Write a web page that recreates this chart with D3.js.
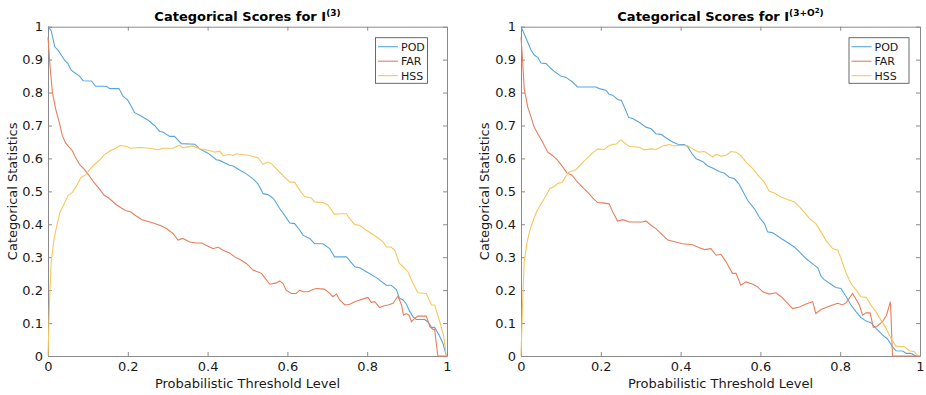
<!DOCTYPE html>
<html>
<head>
<meta charset="utf-8">
<script src="https://cdn.jsdelivr.net/npm/d3@7"></script>
<style>
  body { margin: 0; background: #fff; }
  svg { display: block; font-family: "DejaVu Sans", sans-serif; }
</style>
</head>
<body>
<svg id="chart" width="926" height="395"></svg>
<script>
// tick values and labels
const xTicks = [0, 0.2, 0.4, 0.6, 0.8, 1];
const yTicks = [0, 0.1, 0.2, 0.3, 0.4, 0.5, 0.6, 0.7, 0.8, 0.9, 1];
const seriesNames = ['POD', 'FAR', 'HSS'];
const xLabel = 'Probabilistic Threshold Level';
const yLabel = 'Categorical Statistics';

// [threshold, score], I^(3)
const pod3 = [[0,1.0],[0.008,0.988],[0.017,0.939],[0.025,0.929],[0.033,0.914],[0.042,0.898],[0.05,0.888],[0.058,0.868],[0.067,0.86],[0.079,0.85],[0.088,0.836],[0.109,0.835],[0.119,0.819],[0.146,0.819],[0.155,0.812],[0.178,0.812],[0.188,0.789],[0.2,0.777],[0.209,0.758],[0.217,0.739],[0.23,0.731],[0.251,0.716],[0.267,0.7],[0.28,0.682],[0.288,0.68],[0.305,0.667],[0.317,0.667],[0.334,0.645],[0.368,0.643],[0.38,0.629],[0.401,0.616],[0.422,0.596],[0.43,0.594],[0.455,0.579],[0.464,0.577],[0.48,0.565],[0.497,0.553],[0.514,0.538],[0.526,0.523],[0.535,0.503],[0.539,0.493],[0.551,0.49],[0.56,0.483],[0.568,0.473],[0.581,0.447],[0.593,0.427],[0.606,0.404],[0.618,0.402],[0.631,0.382],[0.639,0.367],[0.656,0.357],[0.668,0.341],[0.689,0.341],[0.706,0.326],[0.718,0.301],[0.748,0.301],[0.769,0.271],[0.781,0.268],[0.798,0.256],[0.823,0.238],[0.848,0.215],[0.86,0.215],[0.873,0.202],[0.881,0.175],[0.89,0.17],[0.898,0.158],[0.906,0.137],[0.915,0.119],[0.923,0.111],[0.944,0.111],[0.952,0.104],[0.961,0.087],[0.969,0.087],[0.98,0.064],[0.99,0.038],[0.998,0.003]];
const far3 = [[0,0.968],[0.005,0.882],[0.011,0.801],[0.019,0.751],[0.028,0.71],[0.036,0.669],[0.044,0.647],[0.053,0.634],[0.061,0.624],[0.069,0.603],[0.08,0.58],[0.09,0.568],[0.103,0.548],[0.115,0.527],[0.128,0.509],[0.14,0.489],[0.153,0.479],[0.17,0.461],[0.182,0.451],[0.195,0.441],[0.207,0.438],[0.22,0.426],[0.236,0.414],[0.256,0.407],[0.28,0.397],[0.297,0.387],[0.313,0.372],[0.326,0.352],[0.338,0.357],[0.355,0.346],[0.372,0.343],[0.386,0.343],[0.401,0.333],[0.414,0.326],[0.426,0.331],[0.439,0.321],[0.455,0.313],[0.468,0.301],[0.48,0.294],[0.497,0.281],[0.514,0.261],[0.535,0.251],[0.547,0.232],[0.556,0.218],[0.572,0.222],[0.581,0.228],[0.589,0.22],[0.597,0.2],[0.61,0.19],[0.622,0.19],[0.631,0.2],[0.639,0.195],[0.652,0.195],[0.664,0.202],[0.673,0.205],[0.693,0.203],[0.706,0.19],[0.714,0.18],[0.723,0.188],[0.731,0.17],[0.744,0.155],[0.756,0.157],[0.769,0.165],[0.781,0.17],[0.794,0.175],[0.802,0.178],[0.81,0.163],[0.819,0.165],[0.831,0.147],[0.84,0.152],[0.852,0.155],[0.865,0.16],[0.877,0.182],[0.886,0.155],[0.891,0.124],[0.898,0.129],[0.905,0.124],[0.911,0.104],[0.919,0.114],[0.927,0.121],[0.948,0.121],[0.957,0.089],[0.965,0.081],[0.969,0.081],[0.977,0],[1,0]];
const hss3 = [[0,0],[0.004,0.17],[0.008,0.284],[0.015,0.355],[0.022,0.395],[0.03,0.436],[0.04,0.461],[0.05,0.487],[0.061,0.497],[0.074,0.522],[0.082,0.541],[0.094,0.55],[0.107,0.57],[0.115,0.58],[0.13,0.596],[0.14,0.61],[0.157,0.624],[0.17,0.631],[0.18,0.639],[0.195,0.637],[0.207,0.631],[0.228,0.633],[0.256,0.631],[0.276,0.626],[0.288,0.631],[0.313,0.631],[0.33,0.64],[0.338,0.632],[0.363,0.638],[0.38,0.629],[0.405,0.624],[0.418,0.619],[0.43,0.622],[0.439,0.609],[0.455,0.612],[0.464,0.609],[0.472,0.614],[0.485,0.612],[0.505,0.609],[0.526,0.602],[0.539,0.582],[0.551,0.589],[0.56,0.584],[0.572,0.569],[0.589,0.548],[0.606,0.528],[0.618,0.528],[0.631,0.503],[0.643,0.484],[0.66,0.48],[0.668,0.468],[0.689,0.466],[0.702,0.458],[0.718,0.43],[0.731,0.432],[0.748,0.432],[0.756,0.417],[0.769,0.399],[0.781,0.397],[0.798,0.382],[0.823,0.362],[0.84,0.346],[0.848,0.331],[0.86,0.331],[0.869,0.321],[0.881,0.281],[0.89,0.271],[0.902,0.256],[0.915,0.22],[0.927,0.192],[0.948,0.19],[0.961,0.155],[0.969,0.155],[0.982,0.104],[0.992,0.059],[0.998,0]];

// right panel, I^(3+O^2)
const pod3o2 = [[0,1.0],[0.013,0.964],[0.025,0.929],[0.033,0.914],[0.042,0.907],[0.05,0.89],[0.063,0.888],[0.075,0.873],[0.088,0.86],[0.1,0.85],[0.113,0.846],[0.129,0.832],[0.142,0.817],[0.188,0.817],[0.196,0.812],[0.213,0.807],[0.221,0.794],[0.23,0.792],[0.242,0.779],[0.251,0.777],[0.259,0.756],[0.27,0.724],[0.28,0.721],[0.297,0.709],[0.313,0.695],[0.326,0.69],[0.338,0.675],[0.351,0.673],[0.363,0.663],[0.38,0.65],[0.393,0.643],[0.409,0.642],[0.418,0.635],[0.43,0.612],[0.439,0.599],[0.455,0.591],[0.468,0.577],[0.48,0.571],[0.497,0.56],[0.51,0.555],[0.522,0.543],[0.535,0.538],[0.546,0.523],[0.556,0.5],[0.568,0.473],[0.585,0.447],[0.597,0.422],[0.61,0.402],[0.618,0.377],[0.631,0.374],[0.652,0.357],[0.673,0.341],[0.685,0.331],[0.698,0.316],[0.714,0.296],[0.735,0.276],[0.744,0.268],[0.752,0.242],[0.76,0.232],[0.777,0.218],[0.789,0.208],[0.802,0.205],[0.815,0.18],[0.827,0.155],[0.84,0.134],[0.852,0.117],[0.865,0.106],[0.877,0.101],[0.89,0.084],[0.906,0.064],[0.919,0.051],[0.931,0.028],[0.94,0.016],[0.957,0.015],[0.965,0.008],[0.977,0.008],[0.99,0]];
const far3o2 = [[0,0.968],[0.004,0.898],[0.008,0.812],[0.017,0.756],[0.025,0.726],[0.033,0.695],[0.042,0.675],[0.054,0.65],[0.067,0.619],[0.079,0.609],[0.092,0.594],[0.104,0.575],[0.115,0.556],[0.128,0.549],[0.14,0.53],[0.157,0.509],[0.17,0.494],[0.182,0.477],[0.192,0.466],[0.205,0.465],[0.221,0.462],[0.23,0.437],[0.242,0.41],[0.255,0.414],[0.272,0.407],[0.305,0.407],[0.313,0.41],[0.326,0.397],[0.338,0.387],[0.355,0.367],[0.368,0.352],[0.388,0.346],[0.405,0.341],[0.43,0.338],[0.447,0.329],[0.46,0.323],[0.476,0.326],[0.489,0.306],[0.501,0.309],[0.514,0.286],[0.53,0.251],[0.539,0.251],[0.551,0.215],[0.564,0.225],[0.581,0.218],[0.593,0.21],[0.606,0.195],[0.622,0.188],[0.639,0.192],[0.652,0.18],[0.664,0.165],[0.681,0.144],[0.698,0.149],[0.714,0.158],[0.731,0.165],[0.739,0.129],[0.752,0.141],[0.764,0.147],[0.781,0.155],[0.794,0.16],[0.806,0.155],[0.815,0.162],[0.831,0.19],[0.848,0.155],[0.856,0.124],[0.865,0.131],[0.875,0.131],[0.883,0.087],[0.891,0.089],[0.906,0.104],[0.916,0.124],[0.926,0.165],[0.931,0],[1,0]];
const hss3o2 = [[0,0],[0.004,0.16],[0.008,0.284],[0.015,0.345],[0.023,0.385],[0.032,0.416],[0.04,0.441],[0.053,0.467],[0.065,0.492],[0.072,0.509],[0.082,0.514],[0.094,0.525],[0.103,0.527],[0.111,0.543],[0.119,0.558],[0.132,0.563],[0.14,0.568],[0.153,0.586],[0.165,0.6],[0.182,0.619],[0.193,0.629],[0.209,0.627],[0.217,0.636],[0.23,0.643],[0.238,0.643],[0.251,0.657],[0.259,0.647],[0.272,0.636],[0.297,0.634],[0.309,0.626],[0.326,0.629],[0.338,0.627],[0.355,0.638],[0.372,0.642],[0.384,0.638],[0.401,0.64],[0.418,0.638],[0.434,0.626],[0.447,0.619],[0.459,0.621],[0.472,0.612],[0.48,0.604],[0.489,0.612],[0.501,0.607],[0.514,0.609],[0.526,0.621],[0.539,0.619],[0.551,0.609],[0.564,0.589],[0.581,0.569],[0.597,0.545],[0.61,0.528],[0.622,0.5],[0.635,0.495],[0.652,0.483],[0.668,0.475],[0.685,0.468],[0.698,0.453],[0.71,0.437],[0.723,0.417],[0.739,0.402],[0.752,0.377],[0.764,0.352],[0.781,0.326],[0.794,0.321],[0.802,0.296],[0.815,0.251],[0.827,0.22],[0.84,0.2],[0.852,0.18],[0.865,0.178],[0.877,0.155],[0.89,0.134],[0.902,0.109],[0.915,0.084],[0.927,0.054],[0.94,0.03],[0.961,0.028],[0.973,0.016],[0.986,0.013],[0.994,0]];

// title pieces: [text, superscript level]
const title3 = [['Categorical Scores for I', 0], ['(3)', 1]];
const title3o2 = [['Categorical Scores for I', 0], ['(3+O', 1], ['2', 2], [')', 1]];

const colors = ['#58a6de', '#e67f5c', '#f6c75c'];
const plotTop = 26.7, plotBottom = 356;

const panels = [
  { left: 48, right: 447, title: title3, series: [pod3, far3, hss3], legendX: 375.5, legendW: 52, ylabX: 16.5 },
  { left: 521, right: 920, title: title3o2, series: [pod3o2, far3o2, hss3o2], legendX: 849, legendW: 60, ylabX: 489 },
];

const svg = d3.select('#chart');
const supSize = [13, 9, 7];
const supShift = [0, -4.5, -3.5];

panels.forEach((p) => {
  let x = d3.scaleLinear().domain([0, 1]).range([p.left, p.right]);
  let y = d3.scaleLinear().domain([0, 1]).range([plotBottom, plotTop]);
  let g = svg.append('g');

  let styleAxis = (sel) => {
    sel.select('.domain').attr('stroke', '#8a8a8a');
    sel.selectAll('.tick line').attr('stroke', '#8a8a8a');
    sel.selectAll('.tick text').attr('fill', '#1a1a1a').style('font-size', '13px').style('font-family', 'DejaVu Sans');
  };

  g.append('g').attr('transform', `translate(0,${plotBottom})`)
    .call(d3.axisBottom(x).tickValues(xTicks).tickFormat((d) => String(d)).tickSize(-4).tickSizeOuter(0).tickPadding(6))
    .call(styleAxis);
  g.append('g').attr('transform', `translate(0,${plotTop})`)
    .call(d3.axisTop(x).tickValues(xTicks).tickFormat('').tickSize(-4).tickSizeOuter(0))
    .call(styleAxis);
  g.append('g').attr('transform', `translate(${p.left},0)`)
    .call(d3.axisLeft(y).tickValues(yTicks).tickFormat((d) => String(d)).tickSize(-4).tickSizeOuter(0).tickPadding(5))
    .call(styleAxis);
  g.append('g').attr('transform', `translate(${p.right},0)`)
    .call(d3.axisRight(y).tickValues(yTicks).tickFormat('').tickSize(-4).tickSizeOuter(0))
    .call(styleAxis);

  let line = d3.line().x((d) => x(d[0])).y((d) => y(d[1]));
  p.series.forEach((s, i) => {
    g.append('path').attr('d', line(s)).attr('fill', 'none')
      .attr('stroke', colors[i]).attr('stroke-width', 1.1);
  });

  // title with superscripts
  let t = g.append('text').attr('x', (p.left + p.right) / 2).attr('y', 20.5)
    .attr('text-anchor', 'middle').style('font-weight', 'bold').attr('fill', '#000');
  let level = 0;
  p.title.forEach(([txt, lv]) => {
    let dy = 0;
    if (lv > level) for (let k = level + 1; k <= lv; k++) dy += supShift[k];
    else for (let k = level; k > lv; k--) dy -= supShift[k];
    t.append('tspan').attr('dy', dy).style('font-size', `${supSize[lv]}px`).text(txt);
    level = lv;
  });

  g.append('text').attr('x', (p.left + p.right) / 2).attr('y', 388)
    .attr('text-anchor', 'middle').style('font-size', '13px').attr('fill', '#1a1a1a').text(xLabel);
  g.append('text').attr('transform', `translate(${p.ylabX},${(plotTop + plotBottom) / 2}) rotate(-90)`)
    .attr('text-anchor', 'middle').style('font-size', '13px').attr('fill', '#1a1a1a').text(yLabel);

  // legend
  let lg = g.append('g').attr('transform', `translate(${p.legendX},37.7)`);
  lg.append('rect').attr('width', p.legendW).attr('height', 45.6)
    .attr('fill', '#fff').attr('stroke', '#5a5a5a').attr('stroke-width', 0.9);
  seriesNames.forEach((name, i) => {
    let ry = 9 + i * 14.5;
    lg.append('line').attr('x1', 2.5).attr('x2', 22.5).attr('y1', ry).attr('y2', ry)
      .attr('stroke', colors[i]).attr('stroke-width', 1.1);
    lg.append('text').attr('x', 25.5).attr('y', ry).attr('dy', '0.36em')
      .style('font-size', '11px').attr('fill', '#1a1a1a').text(name);
  });
});
</script>
</body>
</html>
